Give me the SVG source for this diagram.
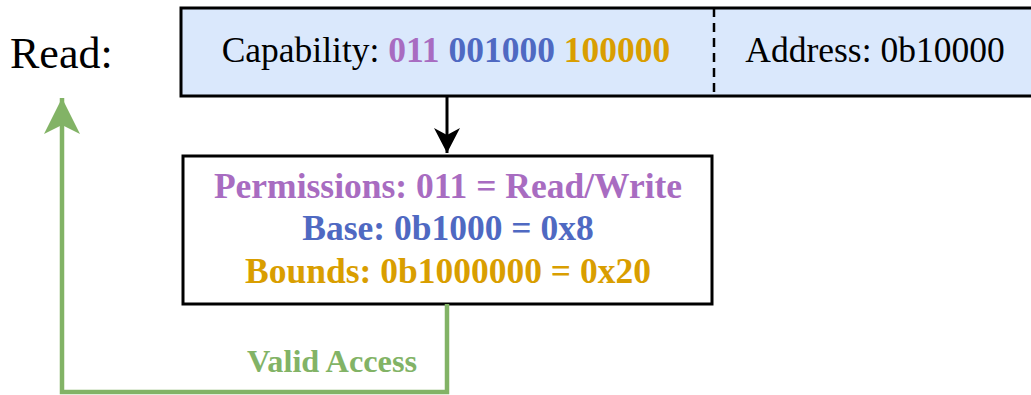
<svg xmlns="http://www.w3.org/2000/svg" width="1031" height="395" viewBox="0 0 1031 395">
  <style>
    .serif { font-family: "Liberation Serif", "Times New Roman", serif; }
    .reg { font-size: 35.5px; fill: #000000; }
    .bold { font-weight: bold; }
    .perm { fill: #a86cc1; }
    .base { fill: #4f69c2; }
    .bound { fill: #d99e00; }
    .valid { fill: #82b366; }
    .box { stroke: #000000; stroke-width: 3; }
  </style>
  <defs>
    <marker id="headBlack" markerUnits="userSpaceOnUse" markerWidth="30" markerHeight="30" viewBox="0 0 30 30" refX="25" refY="13" orient="auto">
      <path d="M0,0 L25,13 L0,26 L7,13 Z" fill="#000000"/>
    </marker>
    <marker id="headGreen" markerUnits="userSpaceOnUse" markerWidth="40" markerHeight="40" viewBox="0 0 40 40" refX="36" refY="18" orient="auto">
      <path d="M0,0 L36,18 L0,36 L9,18 Z" fill="#82b366"/>
    </marker>
  </defs>

  <text class="serif" x="10" y="68" font-size="44">Read:</text>

  <g id="capability-register">
    <rect class="box" x="181" y="8" width="860" height="88" fill="#dae8fc"/>
    <line x1="714" y1="8" x2="714" y2="96" stroke="#000000" stroke-width="2.5" stroke-dasharray="9 6"/>
    <text class="serif reg" x="446" y="62" text-anchor="middle">Capability: <tspan class="bold perm">011</tspan> <tspan class="bold base">001000</tspan> <tspan class="bold bound">100000</tspan></text>
    <text class="serif reg" x="875" y="62" text-anchor="middle">Address: 0b10000</text>
  </g>

  <g id="decoded-fields">
    <rect class="box" x="183" y="156" width="529" height="148" fill="#ffffff"/>
    <text class="serif bold perm" font-size="35.5" x="448" y="198" text-anchor="middle">Permissions: 011 = Read/Write</text>
    <text class="serif bold base" font-size="35.5" x="448" y="240" text-anchor="middle">Base: 0b1000 = 0x8</text>
    <text class="serif bold bound" font-size="35.5" x="448" y="283" text-anchor="middle">Bounds: 0b1000000 = 0x20</text>
  </g>

  <g id="connectors">
    <line x1="447" y1="96" x2="447" y2="153" stroke="#000000" stroke-width="3" marker-end="url(#headBlack)"/>
    <path d="M447,304 L447,392 L62,392 L62,98" fill="none" stroke="#82b366" stroke-width="4.5" marker-end="url(#headGreen)"/>
    <text class="serif bold valid" font-size="32.3" x="332" y="372" text-anchor="middle">Valid Access</text>
  </g>
</svg>
